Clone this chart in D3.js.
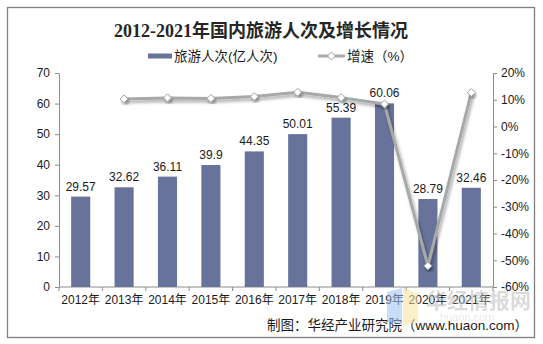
<!DOCTYPE html>
<html>
<head>
<meta charset="utf-8">
<script src="https://cdn.jsdelivr.net/npm/d3@7"></script>
<style>
  html, body { margin: 0; padding: 0; background: #fff; }
  svg { display: block; }
</style>
</head>
<body>
<div id="chart"></div>
<script>
// Domestic tourist trips (100 million) and year-on-year growth (%)
const years = ["2012年", "2013年", "2014年", "2015年", "2016年", "2017年", "2018年", "2019年", "2020年", "2021年"];
const trips = [29.57, 32.62, 36.11, 39.9, 44.35, 50.01, 55.39, 60.06, 28.79, 32.46];
const growthYears = ["2013年", "2014年", "2015年", "2016年", "2017年", "2018年", "2019年", "2020年", "2021年"];
const growth = [10.3, 10.7, 10.5, 11.2, 12.8, 10.8, 8.4, -52.1, 12.7];
const leftTicks = [0, 10, 20, 30, 40, 50, 60, 70];
const rightTicks = [-60, -50, -40, -30, -20, -10, 0, 10, 20];

const W = 543, H = 344;
const FONT = "'Liberation Sans', Arial, 'Noto Sans CJK SC', sans-serif";
const BAR = "#67739A";
const LINE = "#A6AAA6";
const AXIS = "#8C8C8C";

const svg = d3.select("#chart").append("svg")
  .attr("width", W).attr("height", H);

// soft shadow under the growth line
const defs = svg.append("defs");
const f = defs.append("filter").attr("id", "shadow")
  .attr("x", "-10%").attr("y", "-10%").attr("width", "130%").attr("height", "130%");
f.append("feDropShadow").attr("dx", 1.5).attr("dy", 2.5).attr("stdDeviation", 1.6)
  .attr("flood-color", "#000").attr("flood-opacity", 0.35);

// frame
svg.append("rect").attr("x", 7.5).attr("y", 7.5).attr("width", 527).attr("height", 330)
  .attr("fill", "#fff").attr("stroke", "#7F7F7F").attr("stroke-width", 1.3);

// title
svg.append("text").attr("x", 261).attr("y", 37).attr("text-anchor", "middle")
  .attr("font-family", "'Liberation Serif', 'DejaVu Serif', 'Noto Sans CJK SC', serif")
  .attr("font-weight", "bold").attr("font-size", 18).attr("fill", "#262626")
  .text("2012-2021年国内旅游人次及增长情况");

// scales
const x = d3.scaleBand().domain(years).range([59, 493])
  .paddingInner(0.56).paddingOuter(0.28);
const yL = d3.scaleLinear().domain([0, 70]).range([287, 73]);
const yR = d3.scaleLinear().domain([-60, 20]).range([287, 73]);

// axes
const axisStyle = g => {
  g.selectAll("path, line").attr("stroke", AXIS);
  g.selectAll("text").attr("font-family", FONT).attr("font-size", 12).attr("fill", "#1a1a1a");
};

svg.append("g").attr("transform", "translate(59,0)")
  .call(d3.axisLeft(yL).tickValues(leftTicks).tickSize(4).tickSizeOuter(0).tickPadding(5))
  .call(axisStyle);

svg.append("g").attr("transform", "translate(493,0)")
  .call(d3.axisRight(yR).tickValues(rightTicks).tickSize(4).tickSizeOuter(0).tickPadding(4)
    .tickFormat(d => d + "%"))
  .call(axisStyle);

// x axis: ticks at band boundaries, labels centered on bands
const xg = svg.append("g").attr("transform", "translate(0,287)");
xg.append("line").attr("x1", 59).attr("x2", 493).attr("stroke", AXIS);
const step = x.step();
d3.range(years.length + 1).forEach(i => {
  const xx = 59 + i * step;
  xg.append("line").attr("x1", xx).attr("x2", xx).attr("y1", 0).attr("y2", 4).attr("stroke", AXIS);
});
xg.selectAll("text.xl").data(years).join("text").attr("class", "xl")
  .attr("x", d => x(d) + x.bandwidth() / 2).attr("y", 17)
  .attr("text-anchor", "middle").attr("font-family", FONT).attr("font-size", 12)
  .attr("fill", "#1a1a1a").text(d => d);

// bars
svg.append("g").selectAll("rect").data(years).join("rect")
  .attr("x", d => x(d)).attr("width", x.bandwidth())
  .attr("y", (d, i) => yL(trips[i])).attr("height", (d, i) => yL(0) - yL(trips[i]))
  .attr("fill", BAR);

// value labels
svg.append("g").selectAll("text").data(years).join("text")
  .attr("x", d => x(d) + x.bandwidth() / 2).attr("y", (d, i) => yL(trips[i]) - 6)
  .attr("text-anchor", "middle").attr("font-family", FONT).attr("font-size", 12)
  .attr("fill", "#1a1a1a").text((d, i) => trips[i]);

// growth line
const pts = growthYears.map((d, i) => [x(d) + x.bandwidth() / 2, yR(growth[i])]);
svg.append("path").attr("d", d3.line()(pts))
  .attr("fill", "none").attr("stroke", LINE).attr("stroke-width", 3)
  .attr("stroke-linejoin", "round").attr("filter", "url(#shadow)");

const diamond = d3.symbol().type(d3.symbolDiamond2).size(40);
svg.append("g").selectAll("path").data(pts).join("path")
  .attr("transform", d => `translate(${d[0]},${d[1]})`)
  .attr("d", diamond).attr("fill", "#fff").attr("stroke", "#A0A4A0").attr("stroke-width", 1)
  .attr("filter", "url(#shadow)");

// legend
const lg = svg.append("g").attr("font-family", FONT).attr("font-size", 13.5).attr("fill", "#1a1a1a");
lg.append("rect").attr("x", 148).attr("y", 53.5).attr("width", 24).attr("height", 5).attr("fill", BAR);
lg.append("text").attr("x", 174).attr("y", 61).text("旅游人次(亿人次)");
lg.append("line").attr("x1", 318).attr("x2", 345).attr("y1", 56).attr("y2", 56)
  .attr("stroke", LINE).attr("stroke-width", 3);
lg.append("path").attr("transform", "translate(331.5,56)").attr("d", diamond)
  .attr("fill", "#fff").attr("stroke", "#A0A4A0");
lg.append("text").attr("x", 347).attr("y", 61).text("增速（%）");

// source note
svg.append("text").attr("x", 528).attr("y", 330).attr("text-anchor", "end")
  .attr("font-family", FONT).attr("font-size", 13.5).attr("fill", "#1a1a1a")
  .text("制图：华经产业研究院（www.huaon.com）");

// faint site watermark
const wm = svg.append("g").attr("opacity", 0.55);
wm.append("polygon").attr("points", "387,292 402,288 402,325 387,321").attr("fill", "#9CC3F2");
wm.append("polygon").attr("points", "403,288 418,293 418,322 403,326").attr("fill", "#FBE39A");
wm.append("text").attr("x", 426).attr("y", 308).attr("font-family", "'Noto Sans CJK SC', sans-serif")
  .attr("font-weight", "bold").attr("font-size", 21).attr("fill", "#bdbdbd").text("华经情报网");
wm.append("text").attr("x", 440).attr("y", 321).attr("font-family", FONT)
  .attr("font-size", 11).attr("fill", "#d6d6d6").text("huaon.com");
</script>
</body>
</html>
